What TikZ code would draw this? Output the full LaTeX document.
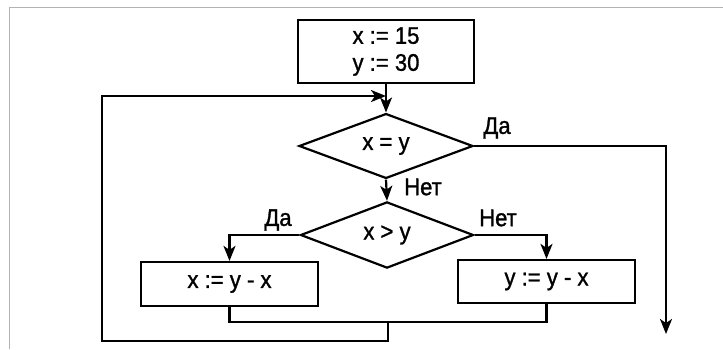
\documentclass[tikz,border=0pt]{standalone}
\usepackage{fontspec}
\setmainfont{Liberation Sans}[FakeBold=0.4]
\newfontfamily\diafont{Liberation Sans}[FakeBold=1.2,FakeStretch=0.92]
\usetikzlibrary{shapes.geometric,arrows.meta}
\begin{document}
\begin{tikzpicture}[x=1pt,y=-1pt,
  every node/.style={font=\diafont\fontsize{24}{27}\selectfont},
  blk/.style={draw,line width=2.2pt,rectangle,inner sep=0pt,align=center},
  dia/.style={draw,line width=2.2pt,diamond,inner sep=0pt},
  ln/.style={line width=2.2pt},
  arr/.style={ln,-{Stealth[length=15pt,width=12pt,inset=4pt]}},
  lbl/.style={inner sep=0pt}]
\useasboundingbox (0,0) rectangle (723,349);
\draw[gray!60,line width=1pt] (9,349) -- (9,7) -- (723,7);
\node[blk,minimum width=176pt,minimum height=63pt] (top) at (386,51.5) {x := 15\\y := 30};
\node[dia,minimum width=174pt,minimum height=62pt] (d1) at (386,146) {x = y};
\node[dia,minimum width=173pt,minimum height=60pt] (d2) at (387,235) {x > y};
\node[blk,minimum width=177pt,minimum height=44pt] (bl) at (229.5,284) {x := y - x};
\node[blk,minimum width=177pt,minimum height=43pt] (br) at (546.5,281.5) {y := y - x};
\coordinate (loopin) at (386,96);
\coordinate (merge) at (388,322);
\coordinate (exit) at (666,334);
\node[lbl] (da1) at (497,128) {Да};
\node[lbl] (net1) at (423,187) {Нет};
\node[lbl] (da2) at (278,220) {Да};
\node[lbl] (net2) at (498,218) {Нет};
\draw[arr] (top.south) -- (d1.north);
\draw[arr] (d1.south) -- (d2.north);
\draw[arr] (d1.east) -| (exit);
\draw[arr] (d2.west) -| (bl.north);
\draw[arr] (d2.east) -| (br.north);
\draw[ln] (bl.south) |- (merge) -| (br.south);
\draw[arr] (merge) -- (388,341) -| (102,96) -- (loopin);
\end{tikzpicture}
\end{document}
